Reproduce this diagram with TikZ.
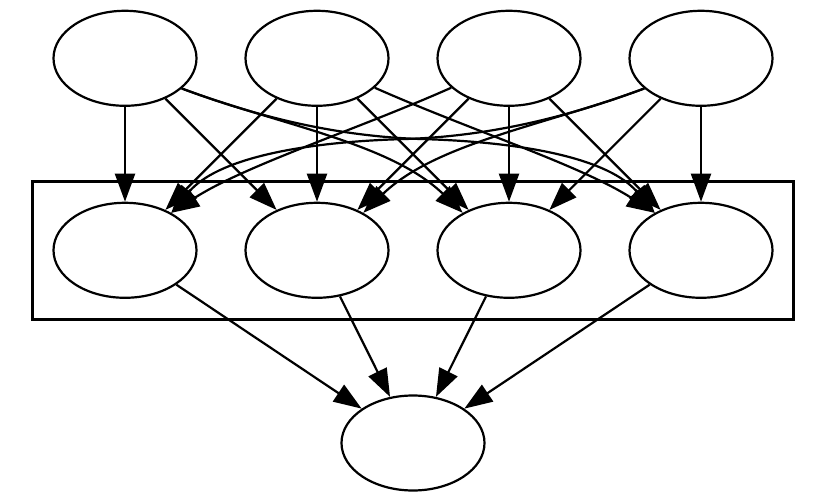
\documentclass[tikz,border=0pt]{standalone}
\usetikzlibrary{shapes.geometric,arrows.meta}
\begin{document}
\begin{tikzpicture}[x=1pt,y=-1pt,
  nd/.style={ellipse,draw,line width=2.2pt,minimum width=143pt,minimum height=95pt,inner sep=0pt},
  arr/.style={line width=2.2pt,-{Triangle[length=28pt,width=20pt]}},
  cluster/.style={draw,line width=2.2pt}]
\fill[white] (0,0) rectangle (826,502);
\useasboundingbox (0,0) rectangle (826,502);
\draw[cluster] (32.5,181.5) rectangle (793.5,319.5);
% top row
\node[nd] (t1) at (125,58.3) {};
\node[nd] (t2) at (317,58.3) {};
\node[nd] (t3) at (509,58.3) {};
\node[nd] (t4) at (701,58.3) {};
% middle row
\node[nd] (m1) at (125,250.3) {};
\node[nd] (m2) at (317,250.3) {};
\node[nd] (m3) at (509,250.3) {};
\node[nd] (m4) at (701,250.3) {};
% bottom
\node[nd] (b) at (413,443) {};
% straight edges
\draw[arr] (t1) -- (m1);
\draw[arr] (t1) -- (m2);
\draw[arr] (t2) -- (m1);
\draw[arr] (t2) -- (m2);
\draw[arr] (t2) -- (m3);
\draw[arr] (t3) -- (m2);
\draw[arr] (t3) -- (m3);
\draw[arr] (t3) -- (m4);
\draw[arr] (t4) -- (m3);
\draw[arr] (t4) -- (m4);
% curved edges
\draw[arr] (t1.-28) .. controls (280,125) and (390,143) .. (m3.141);
\draw[arr] (t1.-28) .. controls (250,114) and (330,136) .. (420,139) .. controls (530,142) and (610,160) .. (m4.141);
\draw[arr] (t2.-27) .. controls (470,130) and (580,165) .. (m4.141);
\draw[arr] (t4.-152) .. controls (546,125) and (436,143) .. (m2.39);
\draw[arr] (t4.-152) .. controls (576,114) and (496,136) .. (406,139) .. controls (296,142) and (216,160) .. (m1.39);
\draw[arr] (t3.-153) .. controls (356,130) and (246,165) .. (m1.39);
% to bottom
\draw[arr] (m1) -- (b);
\draw[arr] (m2) -- (b);
\draw[arr] (m3) -- (b);
\draw[arr] (m4) -- (b);
\end{tikzpicture}
\end{document}
